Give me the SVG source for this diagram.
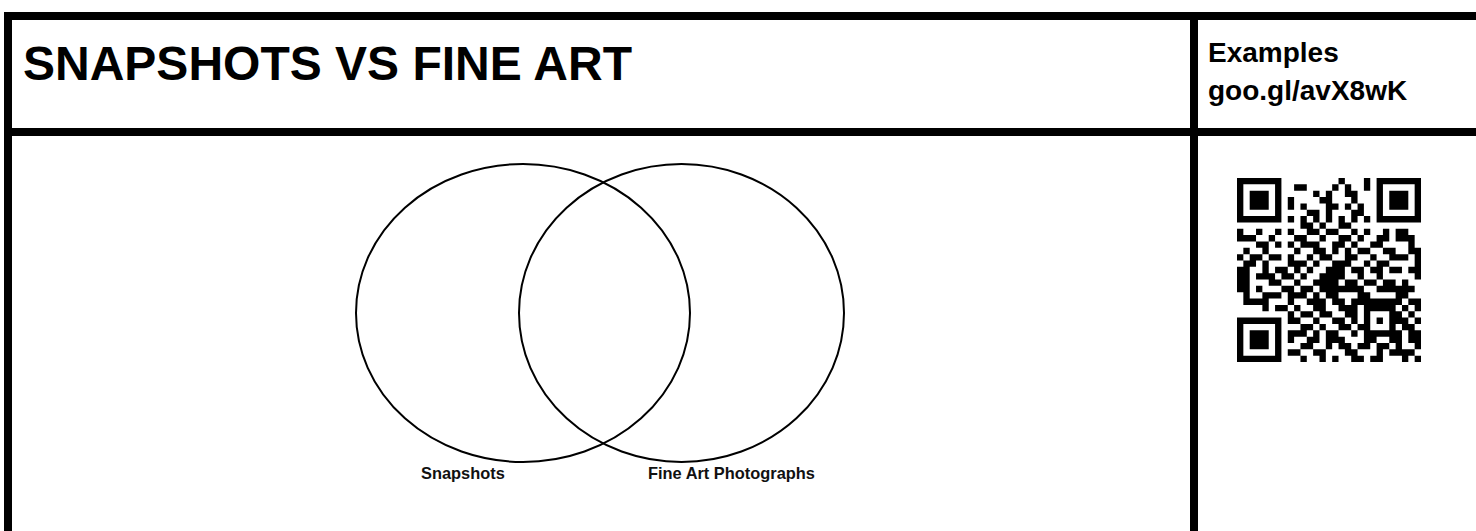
<svg xmlns="http://www.w3.org/2000/svg" width="1476" height="531" viewBox="0 0 1476 531">
<style>
.rule{fill:#000}
.title{font-family:"Liberation Sans",Arial,sans-serif;font-weight:bold;fill:#000}
.venn{fill:none;stroke:#000;stroke-width:2}
.lbl{font-family:"Liberation Sans",Arial,sans-serif;font-weight:bold;font-size:16.4px;fill:#111}
</style>
<rect width="1476" height="531" fill="#fff"/>
<g id="table">
<rect class="rule" x="4" y="12" width="1472" height="8"/>
<rect class="rule" x="4" y="12" width="8" height="519"/>
<rect class="rule" x="4" y="128" width="1472" height="8"/>
<rect class="rule" x="1190" y="12" width="8" height="519"/>
</g>
<g id="title"><text class="title" x="23" y="80" font-size="48">SNAPSHOTS VS FINE ART</text></g>
<g id="examples">
<text class="title" x="1208" y="62" font-size="28">Examples</text>
<text class="title" x="1208" y="100" font-size="28">goo.gl/avX8wK</text>
</g>
<g id="venn-snapshots">
<ellipse class="venn" cx="523" cy="313" rx="167" ry="149"/>
<text class="lbl" x="421" y="479">Snapshots</text>
</g>
<g id="venn-fineart">
<ellipse class="venn" cx="681.5" cy="313" rx="162.5" ry="149"/>
<text class="lbl" x="648" y="479">Fine Art Photographs</text>
</g>
<g id="connectors"/>
<g id="qr" transform="translate(1237 178) scale(6.345)">
<path fill="#000" d="M0 0h7v1h-7zM16 0h1v1h-1zM20 0h1v1h-1zM22 0h7v1h-7z
M0 1h1v1h-1zM6 1h1v1h-1zM9 1h2v1h-2zM15 1h1v1h-1zM17 1h1v1h-1zM20 1h1v1h-1zM22 1h1v1h-1zM28 1h1v1h-1z
M0 2h1v1h-1zM2 2h3v1h-3zM6 2h1v1h-1zM12 2h1v1h-1zM14 2h1v1h-1zM17 2h2v1h-2zM22 2h1v1h-1zM24 2h3v1h-3zM28 2h1v1h-1z
M0 3h1v1h-1zM2 3h3v1h-3zM6 3h1v1h-1zM8 3h1v1h-1zM13 3h2v1h-2zM18 3h1v1h-1zM22 3h1v1h-1zM24 3h3v1h-3zM28 3h1v1h-1z
M0 4h1v1h-1zM2 4h3v1h-3zM6 4h1v1h-1zM8 4h1v1h-1zM10 4h1v1h-1zM14 4h2v1h-2zM17 4h1v1h-1zM19 4h1v1h-1zM22 4h1v1h-1zM24 4h3v1h-3zM28 4h1v1h-1z
M0 5h1v1h-1zM6 5h1v1h-1zM11 5h2v1h-2zM14 5h1v1h-1zM18 5h2v1h-2zM22 5h1v1h-1zM28 5h1v1h-1z
M0 6h7v1h-7zM8 6h1v1h-1zM10 6h1v1h-1zM12 6h1v1h-1zM14 6h1v1h-1zM16 6h1v1h-1zM18 6h1v1h-1zM20 6h1v1h-1zM22 6h7v1h-7z
M10 7h2v1h-2zM13 7h1v1h-1zM16 7h2v1h-2z
M0 8h1v1h-1zM3 8h1v1h-1zM6 8h1v1h-1zM8 8h1v1h-1zM11 8h2v1h-2zM14 8h2v1h-2zM18 8h1v1h-1zM20 8h1v1h-1zM23 8h1v1h-1zM25 8h2v1h-2z
M0 9h3v1h-3zM5 9h1v1h-1zM9 9h2v1h-2zM13 9h1v1h-1zM16 9h2v1h-2zM19 9h1v1h-1zM22 9h2v1h-2zM25 9h3v1h-3z
M3 10h2v1h-2zM6 10h1v1h-1zM8 10h1v1h-1zM10 10h3v1h-3zM15 10h2v1h-2zM18 10h1v1h-1zM21 10h2v1h-2zM27 10h1v1h-1z
M1 11h1v1h-1zM4 11h1v1h-1zM9 11h1v1h-1zM12 11h2v1h-2zM15 11h1v1h-1zM17 11h1v1h-1zM19 11h2v1h-2zM23 11h2v1h-2zM27 11h2v1h-2z
M0 12h1v1h-1zM2 12h2v1h-2zM5 12h2v1h-2zM8 12h1v1h-1zM11 12h1v1h-1zM13 12h2v1h-2zM17 12h2v1h-2zM21 12h1v1h-1zM24 12h3v1h-3zM28 12h1v1h-1z
M1 13h2v1h-2zM4 13h1v1h-1zM8 13h3v1h-3zM12 13h1v1h-1zM15 13h3v1h-3zM20 13h1v1h-1zM22 13h2v1h-2zM28 13h1v1h-1z
M0 14h2v1h-2zM4 14h1v1h-1zM6 14h2v1h-2zM9 14h1v1h-1zM11 14h1v1h-1zM14 14h3v1h-3zM18 14h2v1h-2zM21 14h2v1h-2zM24 14h2v1h-2zM27 14h2v1h-2z
M0 15h2v1h-2zM3 15h3v1h-3zM7 15h2v1h-2zM10 15h1v1h-1zM13 15h4v1h-4zM19 15h1v1h-1zM22 15h1v1h-1zM28 15h1v1h-1z
M0 16h2v1h-2zM5 16h2v1h-2zM9 16h1v1h-1zM12 16h4v1h-4zM17 16h2v1h-2zM20 16h2v1h-2zM23 16h2v1h-2zM26 16h1v1h-1z
M0 17h2v1h-2zM3 17h1v1h-1zM7 17h2v1h-2zM10 17h2v1h-2zM13 17h7v1h-7zM22 17h6v1h-6z
M1 18h1v1h-1zM4 18h3v1h-3zM8 18h3v1h-3zM12 18h1v1h-1zM14 18h2v1h-2zM19 18h2v1h-2zM25 18h2v1h-2z
M1 19h4v1h-4zM8 19h1v1h-1zM11 19h3v1h-3zM15 19h2v1h-2zM18 19h8v1h-8zM27 19h2v1h-2z
M4 20h1v1h-1zM6 20h2v1h-2zM9 20h1v1h-1zM12 20h2v1h-2zM16 20h3v1h-3zM20 20h5v1h-5zM26 20h1v1h-1zM28 20h1v1h-1z
M8 21h1v1h-1zM10 21h2v1h-2zM13 21h2v1h-2zM17 21h2v1h-2zM20 21h1v1h-1zM24 21h2v1h-2zM27 21h1v1h-1z
M0 22h7v1h-7zM8 22h2v1h-2zM12 22h1v1h-1zM15 22h2v1h-2zM18 22h1v1h-1zM20 22h1v1h-1zM22 22h1v1h-1zM24 22h3v1h-3zM28 22h1v1h-1z
M0 23h1v1h-1zM6 23h1v1h-1zM10 23h2v1h-2zM13 23h1v1h-1zM16 23h2v1h-2zM19 23h2v1h-2zM24 23h1v1h-1zM26 23h2v1h-2z
M0 24h1v1h-1zM2 24h3v1h-3zM6 24h1v1h-1zM8 24h3v1h-3zM12 24h1v1h-1zM14 24h2v1h-2zM18 24h1v1h-1zM20 24h6v1h-6zM27 24h2v1h-2z
M0 25h1v1h-1zM2 25h3v1h-3zM6 25h1v1h-1zM8 25h1v1h-1zM11 25h2v1h-2zM14 25h3v1h-3zM20 25h2v1h-2zM24 25h2v1h-2zM27 25h2v1h-2z
M0 26h1v1h-1zM2 26h3v1h-3zM6 26h1v1h-1zM10 26h2v1h-2zM14 26h1v1h-1zM16 26h2v1h-2zM19 26h2v1h-2zM22 26h2v1h-2zM25 26h1v1h-1zM28 26h1v1h-1z
M0 27h1v1h-1zM6 27h1v1h-1zM8 27h2v1h-2zM12 27h2v1h-2zM17 27h2v1h-2zM22 27h1v1h-1zM24 27h4v1h-4z
M0 28h7v1h-7zM10 28h1v1h-1zM13 28h1v1h-1zM15 28h1v1h-1zM18 28h2v1h-2zM21 28h2v1h-2zM26 28h1v1h-1zM28 28h1v1h-1z"/>
</g>
</svg>
